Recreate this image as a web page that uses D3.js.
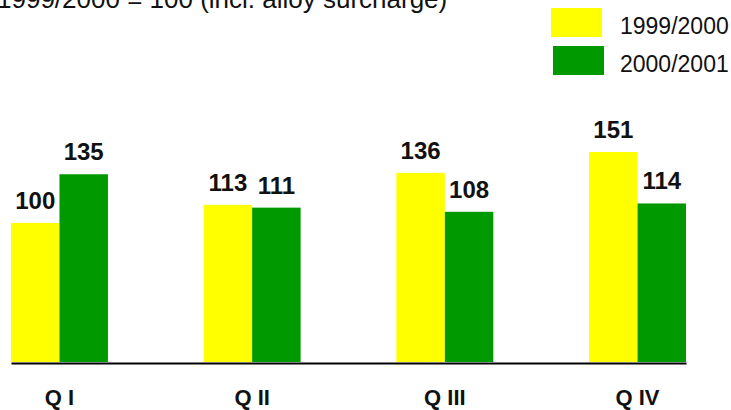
<html>
<head>
    <script src="https://d3js.org/d3.v7.min.js"></script>
</head>
<body style="margin:0">
    <svg id='s' width="731" height="410"></svg>
    <script>
        const quarters = ["Q I", "Q II", "Q III", "Q IV"]
        const seriesNames = ["1999/2000", "2000/2001"]
        const values1999 = [100, 113, 136, 151]
        const values2000 = [135, 111, 108, 114]
        const colors = ["#ffff00", "#009900"]

        const BASE = 362
        const FONT = "'Liberation Sans', Arial, sans-serif"

        var svg = d3.select("svg")
            .style("background", "#fff")

        const data = quarters.map((q, i) => ({ q: q, vals: [values1999[i], values2000[i]] }))

        const x0 = d3.scaleBand()
            .domain(quarters)
            .range([11, 686])
            .paddingInner(0.497)
            .paddingOuter(0)

        const x1 = d3.scaleBand()
            .domain(seriesNames)
            .range([0, x0.bandwidth()])

        const y = d3.scaleLinear()
            .domain([0, 151])
            .range([BASE, 152])

        // Title (cut at the top edge)
        svg.append("text")
            .attr("x", -3)
            .attr("y", 8)
            .attr("font-family", FONT)
            .attr("font-size", "26px")
            .attr("fill", "#111")
            .text("1999/2000 = 100 (incl. alloy surcharge)")

        // Legend
        const legend = svg.append("g")
        seriesNames.forEach((name, i) => {
            legend.append("rect")
                .attr("x", 551 + i * 2)
                .attr("y", 8 + i * 38)
                .attr("width", 51)
                .attr("height", 29)
                .attr("fill", colors[i])
            legend.append("text")
                .attr("x", 620)
                .attr("y", 34 + i * 38)
                .attr("font-family", FONT)
                .attr("font-size", "23px")
                .attr("fill", "#111")
                .text(name)
        })

        // Bars
        const groups = svg.selectAll("g.grp")
            .data(data)
            .enter().append("g")
            .attr("class", "grp")
            .attr("transform", d => `translate(${x0(d.q)}, 0)`)

        groups.selectAll("rect")
            .data(d => d.vals.map((v, i) => ({ s: seriesNames[i], v: v, i: i })))
            .enter().append("rect")
            .attr("x", d => x1(d.s))
            .attr("y", d => y(d.v))
            .attr("width", x1.bandwidth())
            .attr("height", d => BASE - y(d.v))
            .attr("fill", d => colors[d.i])

        groups.selectAll("text")
            .data(d => d.vals.map((v, i) => ({ s: seriesNames[i], v: v })))
            .enter().append("text")
            .attr("x", d => x1(d.s) + x1.bandwidth() / 2)
            .attr("y", d => y(d.v) - 14)
            .attr("text-anchor", "middle")
            .attr("font-family", FONT)
            .attr("font-weight", "bold")
            .attr("font-size", "24px")
            .attr("fill", "#111")
            .text(d => d.v)

        // X axis
        const xAxisCall = d3.axisBottom(x0)
            .tickSize(0)
            .tickSizeOuter(0)
            .tickPadding(26)
        const xAxis = svg.append("g")
            .attr("transform", `translate(0, ${BASE + 1})`)
            .call(xAxisCall)
        xAxis.select(".domain")
            .attr("stroke", "#000")
            .attr("stroke-width", 2)
        xAxis.selectAll("text")
            .attr("font-family", FONT)
            .attr("font-weight", "bold")
            .attr("font-size", "22px")
            .attr("fill", "#111")
    </script>
</body>
</html>
